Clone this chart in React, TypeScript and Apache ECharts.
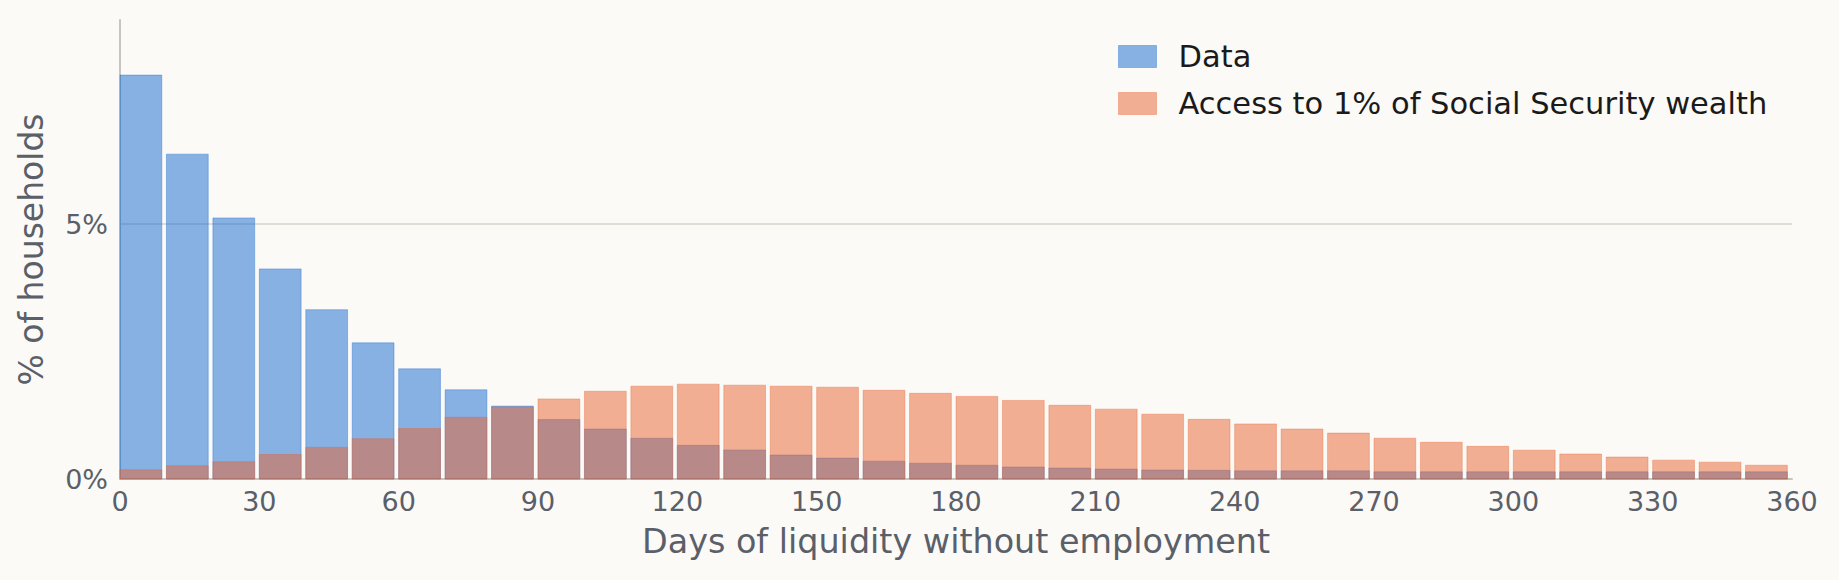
import * as echarts from 'echarts';
import { useEffect, useRef } from 'react';

// bin start (days), each bin is 10 days wide
const binStarts = [
  0, 10, 20, 30, 40, 50, 60, 70, 80, 90, 100, 110, 120, 130, 140, 150, 160, 170,
  180, 190, 200, 210, 220, 230, 240, 250, 260, 270, 280, 290, 300, 310, 320, 330, 340, 350,
];

// % of households, observed data
const dataPct = [
  7.92, 6.37, 5.12, 4.12, 3.32, 2.67, 2.16, 1.75, 1.43, 1.165, 0.98, 0.8, 0.66, 0.57, 0.47, 0.41,
  0.35, 0.31, 0.27, 0.235, 0.215, 0.196, 0.176, 0.17, 0.16, 0.16, 0.16, 0.14, 0.14, 0.14, 0.14,
  0.14, 0.14, 0.14, 0.14, 0.14,
];

// % of households, counterfactual with access to 1% of SS wealth
const accessPct = [
  0.18, 0.26, 0.34, 0.48, 0.62, 0.79, 0.99, 1.21, 1.41, 1.57, 1.72, 1.82, 1.86, 1.84, 1.82, 1.8,
  1.74, 1.68, 1.62, 1.54, 1.445, 1.37, 1.27, 1.17, 1.08, 0.98, 0.9, 0.8, 0.72, 0.64, 0.565, 0.49,
  0.43, 0.37, 0.33, 0.27,
];

const xTicks = [0, 360, 30];
const yTicks = [0, 9, 5];

const BAR_DAYS = 9;
const FONT = "'DejaVu Sans', sans-serif";
const BG = '#fbfaf6';
const TEXT = '#5a5f69';

const blue = { fill: 'rgba(19,102,208,0.5)', stroke: 'rgba(19,102,208,0.35)' };
const orange = { fill: 'rgba(233,98,48,0.5)', stroke: 'rgba(233,98,48,0.35)' };

function barSeries(name: string, values: number[], c: { fill: string; stroke: string }) {
  return {
    name,
    type: 'custom',
    data: binStarts.map((x, i) => [x, values[i]]),
    encode: { x: 0, y: 1 },
    itemStyle: { color: c.fill, borderColor: c.stroke, borderWidth: 1 },
    renderItem: (_params: any, api: any) => {
      const x0 = api.value(0);
      const v = api.value(1);
      const p0 = api.coord([x0, v]);
      const p1 = api.coord([x0 + BAR_DAYS, 0]);
      return {
        type: 'rect',
        shape: { x: p0[0], y: p0[1], width: p1[0] - p0[0], height: p1[1] - p0[1] },
        style: { fill: c.fill, stroke: c.stroke, lineWidth: 1 },
      };
    },
  };
}

export default function App() {
  const container = useRef<HTMLDivElement | null>(null);

  useEffect(() => {
    if (!container.current) return;
    const chart = echarts.init(container.current, null, { renderer: 'svg' });
    chart.setOption({
      animation: false,
      backgroundColor: BG,
      textStyle: { fontFamily: FONT },
      grid: { left: 120, right: 47, top: 20, bottom: 101 },
      legend: {
        orient: 'vertical',
        left: 1118,
        top: 41,
        padding: 0,
        icon: 'rect',
        itemWidth: 38,
        itemHeight: 22,
        itemGap: 16,
        textStyle: {
          fontFamily: FONT,
          fontSize: 30.5,
          lineHeight: 30,
          color: '#1a1a1a',
          padding: [0, 0, 0, 17],
        },
        data: [
          { name: 'Data', itemStyle: { color: blue.fill, borderColor: blue.stroke, borderWidth: 1 } },
          {
            name: 'Access to 1% of Social Security wealth',
            itemStyle: { color: orange.fill, borderColor: orange.stroke, borderWidth: 1 },
          },
        ],
      },
      xAxis: {
        type: 'value',
        min: xTicks[0],
        max: xTicks[1],
        interval: xTicks[2],
        name: 'Days of liquidity without employment',
        nameLocation: 'middle',
        nameGap: 46,
        nameTextStyle: { fontFamily: FONT, fontSize: 33.4, color: TEXT },
        axisLine: { show: true, lineStyle: { color: '#c6c6be', width: 2 } },
        axisTick: { show: false },
        splitLine: { show: false },
        axisLabel: { fontFamily: FONT, fontSize: 27, color: TEXT, margin: 9 },
      },
      yAxis: {
        type: 'value',
        min: yTicks[0],
        max: yTicks[1],
        interval: yTicks[2],
        name: '% of households',
        nameLocation: 'middle',
        nameGap: 72,
        nameTextStyle: { fontFamily: FONT, fontSize: 33, color: TEXT },
        axisLine: { show: true, lineStyle: { color: '#c6c6be', width: 2 } },
        axisTick: { show: false },
        splitLine: {
          show: true,
          showMinLine: false,
          showMaxLine: false,
          lineStyle: { color: '#dfded6', width: 2 },
        },
        axisLabel: {
          fontFamily: FONT,
          fontSize: 27,
          color: TEXT,
          margin: 12,
          showMaxLabel: false,
          formatter: (v: number) => (v % 5 === 0 ? `${v}%` : ''),
        },
      },
      series: [
        barSeries('Data', dataPct, blue),
        barSeries('Access to 1% of Social Security wealth', accessPct, orange),
      ],
    } as echarts.EChartsOption);
    return () => chart.dispose();
  }, []);

  return (
    <div
      ref={container}
      style={{ position: 'fixed', left: 0, top: 0, width: 1839, height: 580, background: BG }}
    />
  );
}
